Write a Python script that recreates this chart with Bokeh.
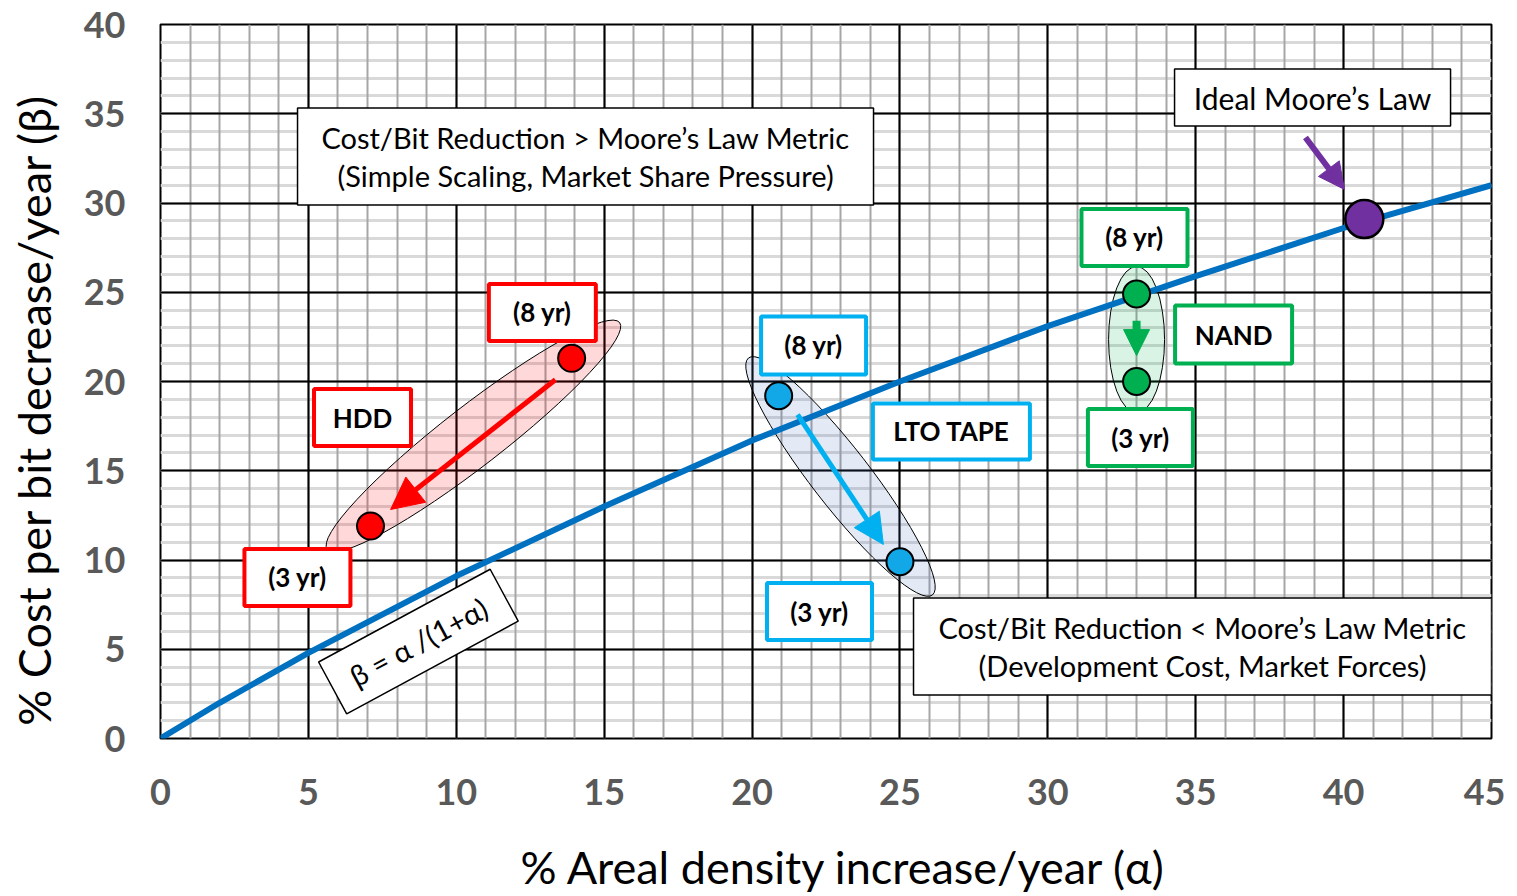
from bokeh.plotting import figure
from bokeh.models import Range1d, FixedTicker, Arrow, NormalHead, Grid
from bokeh.core.properties import value
from bokeh.embed import file_html
from bokeh.resources import INLINE

# ---------------- data ----------------
x_ticks = [0, 5, 10, 15, 20, 25, 30, 35, 40, 45]
y_ticks = [0, 5, 10, 15, 20, 25, 30, 35, 40]
x_minor = list(range(0, 46))
y_minor = list(range(0, 41))

# Ideal Moore's law curve  beta = alpha/(1+alpha)
curve_alpha = [0, 2, 5, 10, 15, 20, 25, 30, 35, 40, 45]
curve_beta = [0, 2.0, 4.8, 9.1, 13.0, 16.7, 20.0, 23.1, 25.9, 28.6, 31.0]

hdd_alpha = [13.9, 7.1]      # 8 yr, 3 yr
hdd_beta = [21.3, 11.9]
lto_alpha = [20.9, 25.0]
lto_beta = [19.2, 9.9]
nand_alpha = [33.0, 33.0]
nand_beta = [24.9, 20.0]
ideal_alpha = [40.7]
ideal_beta = [29.1]

x_title = "% Areal density increase/year (\u03b1)"
y_title = "% Cost per bit decrease/year (\u03b2)"

FONT = value("Lato")
RED, BLUE, GREEN, PURPLE = "#ff0000", "#00b0f0", "#00b050", "#7030a0"
NB = "\u00a0"  # non-breaking space, nudges the axis titles off-centre like the reference

p = figure(frame_width=1331, frame_height=714,
           x_range=Range1d(0, 45), y_range=Range1d(0, 40),
           output_backend="svg", toolbar_location=None,
           min_border_left=160, min_border_right=14,
           min_border_top=24, min_border_bottom=157,
           background_fill_color="white", border_fill_color="white")

# grid: light horizontal minors, then gray vertical minors, then black majors on top
p.xgrid.visible = False
p.ygrid.visible = False
p.add_layout(Grid(dimension=1, ticker=FixedTicker(ticks=y_minor),
                  grid_line_color="#d9d9d9", grid_line_width=3))
p.add_layout(Grid(dimension=0, ticker=FixedTicker(ticks=x_minor),
                  grid_line_color="#a6a6a6", grid_line_width=2))
p.add_layout(Grid(dimension=1, ticker=FixedTicker(ticks=y_ticks),
                  grid_line_color="black", grid_line_width=2))
p.add_layout(Grid(dimension=0, ticker=FixedTicker(ticks=x_ticks),
                  grid_line_color="black", grid_line_width=2))
p.outline_line_color = "black"
p.outline_line_width = 2

# axes
p.xaxis.ticker = x_ticks
p.yaxis.ticker = y_ticks
for ax in (p.xaxis[0], p.yaxis[0]):
    ax.axis_line_color = None
    ax.major_tick_line_color = None
    ax.minor_tick_line_color = None
    ax.major_label_text_font = "Lato"
    ax.major_label_text_font_style = "bold"
    ax.major_label_text_font_size = "36px"
    ax.major_label_text_color = "#595959"
    ax.axis_label_text_font = "Lato"
    ax.axis_label_text_font_style = "normal"
    ax.axis_label_text_font_size = "45px"
    ax.axis_label_text_color = "black"
p.xaxis.major_label_standoff = 34
p.yaxis.major_label_standoff = 29
p.xaxis.axis_label = NB * 3 + x_title
p.yaxis.axis_label = y_title + NB * 5
p.xaxis.axis_label_standoff = 32
p.yaxis.axis_label_standoff = 20

# ellipses (screen-sized, centred in data space)
p.ellipse(x=[10.58], y=[16.95], width=[370], height=[60], angle=[37.8],
          angle_units="deg", width_units="screen", height_units="screen",
          fill_color=RED, fill_alpha=0.15, line_color="black", line_width=1)
p.ellipse(x=[22.99], y=[14.68], width=[300], height=[58], angle=[-52.2],
          angle_units="deg", width_units="screen", height_units="screen",
          fill_color="#4472c4", fill_alpha=0.15, line_color="black", line_width=1)
p.ellipse(x=[33.0], y=[22.35], width=[56], height=[146], angle=[0],
          width_units="screen", height_units="screen",
          fill_color=GREEN, fill_alpha=0.15, line_color="black", line_width=1)

# curve
p.line(curve_alpha, curve_beta, line_color="#0070c0", line_width=6)

# arrows
def arrow(x0, y0, x1, y1, color, lw, size):
    p.add_layout(Arrow(end=NormalHead(size=size, fill_color=color, line_color=color, line_width=1),
                       x_start=x0, y_start=y0, x_end=x1, y_end=y1,
                       line_color=color, line_width=lw))

arrow(13.35, 20.1, 7.78, 12.83, RED, 5, 32)
arrow(21.54, 18.15, 24.44, 10.87, BLUE, 5, 30)
arrow(33.0, 23.4, 33.0, 21.45, GREEN, 8, 26)
arrow(38.71, 33.67, 40.03, 30.76, PURPLE, 6, 26)

# markers
p.scatter(hdd_alpha, hdd_beta, size=27, fill_color=RED, line_color="black", line_width=2)
p.scatter(lto_alpha, lto_beta, size=27, fill_color="#12a7e6", line_color="black", line_width=2)
p.scatter(nand_alpha, nand_beta, size=27, fill_color=GREEN, line_color="black", line_width=2)
p.scatter(ideal_alpha, ideal_beta, size=38, fill_color=PURPLE, line_color="black", line_width=2.5)

# label boxes
def box(x, y, w, h, color, lw, angle=0):
    p.rect(x=[x], y=[y], width=[w], height=[h], width_units="screen", height_units="screen",
           angle=[angle], angle_units="deg", fill_color="white", line_color=color, line_width=lw)

def txt(x, y, s, size, bold=False, angle=0):
    p.text(x=[x], y=[y], text=[s], text_font=FONT, text_font_size=size,
           text_font_style="bold" if bold else "normal", text_color="black",
           text_align="center", text_baseline="middle", angle=[angle], angle_units="deg")

colored = [
    (12.91, 23.87, 107, 57, RED, "(8 yr)"),
    (6.83, 17.98, 97, 57, RED, "HDD"),
    (4.63, 9.02, 106, 57, RED, "(3 yr)"),
    (22.08, 22.02, 105, 58, BLUE, "(8 yr)"),
    (26.74, 17.20, 157, 56, BLUE, "LTO TAPE"),
    (22.28, 7.11, 105, 57, BLUE, "(3 yr)"),
    (32.93, 28.07, 106, 57, GREEN, "(8 yr)"),
    (36.28, 22.63, 117, 58, GREEN, "NAND"),
    (33.13, 16.86, 105, 57, GREEN, "(3 yr)"),
]
for x, y, w, h, c, s in colored:
    box(x, y, w, h, c, 4)
    txt(x, y, s, "26px", bold=True)

box(38.95, 35.91, 276, 57, "black", 1.5)
txt(38.95, 35.91, "Ideal Moore\u2019s Law", "30px")

box(14.37, 32.6, 576, 97, "black", 1.5)
txt(14.37, 33.66, "Cost/Bit Reduction > Moore\u2019s Law Metric", "29px")
txt(14.37, 31.54, "(Simple Scaling, Market Share Pressure)", "29px")

box(35.23, 5.15, 578, 97, "black", 1.5)
txt(35.23, 6.21, "Cost/Bit Reduction < Moore\u2019s Law Metric", "29px")
txt(35.23, 4.09, "(Development Cost, Market Forces)", "29px")

box(8.72, 5.43, 195, 59, "black", 1.5, angle=28.4)
txt(8.72, 5.43, "\u03b2 = \u03b1 /(1+\u03b1)", "29px", angle=28.4)

open("out.html", "w").write(file_html(p, INLINE))
